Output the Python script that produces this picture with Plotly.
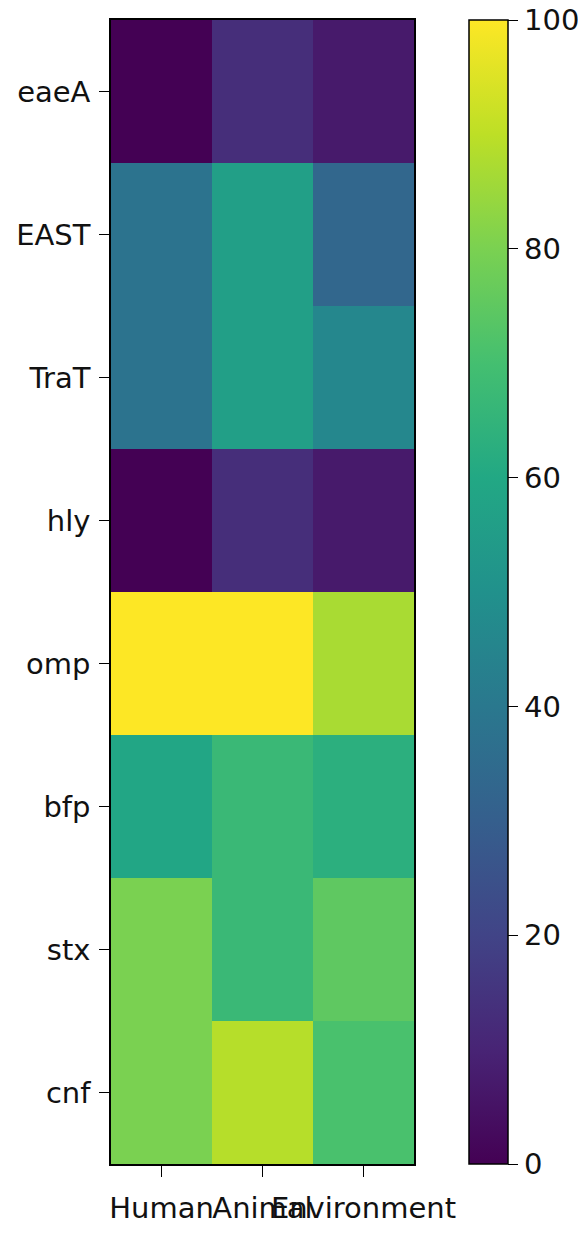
import plotly.graph_objects as go

genes = ["eaeA", "EAST", "TraT", "hly", "omp", "bfp", "stx", "cnf"]
sources = ["Human", "Animal", "Environment"]
human = [0, 38, 38, 0, 100, 59, 80, 80]
animal = [13, 56, 56, 13, 100, 67, 67, 89]
environment = [7, 33, 46, 7, 87, 63, 75, 71]
cbar_ticks = [0, 20, 40, 60, 80, 100]

z = [[h, a, e] for h, a, e in zip(human, animal, environment)]

viridis = [
    [0.0, "#440154"], [0.1, "#482475"], [0.2, "#414487"], [0.3, "#355f8d"],
    [0.4, "#2a788e"], [0.5, "#21918c"], [0.6, "#22a884"], [0.7, "#44bf70"],
    [0.8, "#7ad151"], [0.9, "#bddf26"], [1.0, "#fde725"],
]

# page body has an 8px default margin; compensate so the figure lands where the reference is
OFF = 8
W, H = 586 - OFF, 1234 - OFF
L, R, T, B = 111 - OFF, 414 - OFF, 20 - OFF, 1164 - OFF
plot_w = R - L

fig = go.Figure(go.Heatmap(
    z=z, x=sources, y=genes,
    colorscale=viridis, zmin=0, zmax=100,
    xgap=0, ygap=0,
    colorbar=dict(
        x=(469 - OFF - L) / plot_w, xanchor="left", xref="paper",
        y=0.5, yanchor="middle", len=1, lenmode="fraction",
        xpad=0, ypad=0,
        thickness=39, thicknessmode="pixels",
        outlinewidth=1.5, outlinecolor="black",
        tickvals=cbar_ticks, ticktext=[str(t) for t in cbar_ticks],
        ticks="outside", ticklen=10, tickwidth=1.2, tickcolor="black",
        ticklabeloverflow="allow",
        tickfont=dict(family="DejaVu Sans", size=29, color="#111"),
    ),
))

fig.update_layout(
    width=W, height=H,
    margin=dict(l=L, r=W - R, t=T, b=H - B, pad=0, autoexpand=False),
    paper_bgcolor="white", plot_bgcolor="white",
    font=dict(family="DejaVu Sans", size=29, color="#111"),
)
fig.update_xaxes(
    showline=True, mirror=True, linecolor="black", linewidth=1.5,
    ticks="outside", ticklen=11, tickwidth=1.2, tickcolor="black",
    tickangle=0, showgrid=False, zeroline=False, automargin=False,
    ticklabelstandoff=6,
    tickfont=dict(family="DejaVu Sans", size=29, color="#111"),
)
fig.update_yaxes(
    autorange="reversed",
    showline=True, mirror=True, linecolor="black", linewidth=1.5,
    ticks="outside", ticklen=10, tickwidth=1.2, tickcolor="black",
    showgrid=False, zeroline=False, automargin=False,
    ticklabelstandoff=3,
    tickfont=dict(family="DejaVu Sans", size=29, color="#111"),
)

fig.write_html("out.html")
